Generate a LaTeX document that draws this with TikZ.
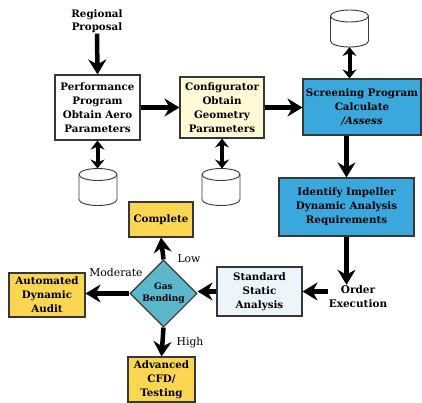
\documentclass[tikz,border=0pt]{standalone}
\usepackage{fontspec}
\setmainfont{DejaVu Serif}
\usetikzlibrary{shapes.geometric,arrows.meta}
\definecolor{bluebox}{RGB}{58,168,220}
\definecolor{tealdia}{RGB}{92,182,204}
\definecolor{yelbox}{RGB}{250,214,82}
\definecolor{creambox}{RGB}{255,249,214}
\definecolor{lightbl}{RGB}{236,245,250}
\definecolor{edge}{RGB}{55,55,55}
\tikzset{
  box/.style={draw=edge,line width=1.1pt,align=center,inner sep=1pt,font=\bfseries\fontsize{10.3}{14}\selectfont},
  bigarrow/.style={line width=4.5pt,-{Stealth[length=15pt,width=18pt,inset=5pt]}},
  dblarrow/.style={line width=4pt,{Stealth[length=9pt,width=14pt,inset=3pt]}-{Stealth[length=9pt,width=14pt,inset=3pt]}},
  cylline/.style={draw=edge,line width=0.9pt,fill=white},
  lbl/.style={font=\fontsize{10.8}{12}\selectfont,inner sep=1pt}
}
\newcommand\mydb[3]{%
  \begin{scope}[shift={(#2,#3)}]
    \path[cylline] (-19pt,12.5pt) -- (-19pt,-12.5pt)
      arc[start angle=180,end angle=360,x radius=19pt,y radius=6pt]
      -- (19pt,12.5pt)
      arc[start angle=0,end angle=180,x radius=19pt,y radius=6pt] -- cycle;
    \draw[draw=edge,line width=0.9pt] (-19pt,12.5pt)
      arc[start angle=180,end angle=360,x radius=19pt,y radius=6pt];
    \coordinate (#1t) at (0pt,18.5pt);
    \coordinate (#1b) at (0pt,-18.5pt);
  \end{scope}}
\begin{document}
\begin{tikzpicture}[x=1pt,y=-1pt]
\useasboundingbox (0,0) rectangle (422,402);
\node[align=center,font=\bfseries\fontsize{10.3}{13}\selectfont,inner sep=1pt] (reg) at (97,21) {Regional\\Proposal};
\node[box,fill=white,minimum width=85pt,minimum height=65pt] (perf) at (97.5,107.5) {Performance\\Program\\Obtain Aero\\Parameters};
\node[box,fill=creambox,minimum width=84pt,minimum height=61pt] (conf) at (222,107.5) {Configurator\\Obtain\\Geometry\\Parameters};
\node[box,fill=bluebox,minimum width=118pt,minimum height=56pt] (scr) at (362,107) {Screening Program\\Calculate\\\textit{/Assess}};
\node[box,fill=bluebox,minimum width=135pt,minimum height=58pt] (ident) at (346.5,207) {Identify Impeller\\Dynamic Analysis\\Requirements};
\node[align=center,font=\bfseries\fontsize{10.5}{14}\selectfont,inner sep=1pt] (order) at (358,297) {Order\\Execution};
\node[box,fill=lightbl,minimum width=85pt,minimum height=49pt] (std) at (259.5,291.5) {Standard\\Static\\Analysis};
\node[diamond,draw=edge,line width=1.1pt,fill=tealdia,minimum width=67pt,minimum height=67pt,inner sep=0pt,align=center,font=\bfseries\fontsize{9}{12}\selectfont] (gas) at (163.5,293.5) {Gas\\Bending};
\node[box,fill=yelbox,minimum width=64pt,minimum height=35pt] (comp) at (161,219.5) {Complete};
\node[box,fill=yelbox,minimum width=76pt,minimum height=44pt] (auto) at (47,295) {Automated\\Dynamic\\Audit};
\node[box,fill=yelbox,minimum width=67pt,minimum height=45pt] (adv) at (161.5,379.5) {Advanced\\CFD/\\Testing};
\mydb{ca}{98}{187}
\mydb{cb}{221}{187}
\mydb{cc}{349.5}{28.5}
\draw[bigarrow] (reg.south) -- (perf.north);
\draw[bigarrow] (perf.east) -- (conf.west);
\draw[bigarrow] (conf.east) -- (scr.west |- conf.east);
\draw[dblarrow] (perf.south) -- (perf.south |- cat);
\draw[dblarrow] (conf.south) -- (conf.south |- cbt);
\draw[dblarrow] (ccb) -- (ccb |- scr.north);
\draw[bigarrow] (ident.north |- scr.south) -- (ident.north);
\draw[bigarrow] (ident.south) -- (ident.south |- order.north);
\draw[bigarrow] (order.west |- std.east) -- (std.east);
\draw[bigarrow] (std.west) -- (gas.east |- std.west);
\draw[bigarrow] (gas.north) -- (comp.south);
\draw[bigarrow] (gas.west) -- (auto.east |- gas.west);
\draw[bigarrow] (gas.south) -- (adv.north);
\node[lbl] (low) at (189,259) {Low};
\node[lbl] (mod) at (116,272) {Moderate};
\node[lbl] (high) at (190,343) {High};
\end{tikzpicture}
\end{document}
